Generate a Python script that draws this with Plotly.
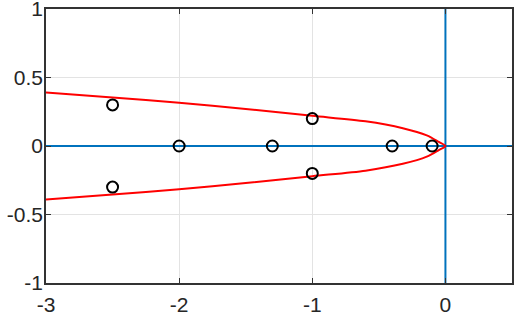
import plotly.graph_objects as go

# Red curve (upper branch); lower branch is its mirror
curve_x = [-3.0, -2.5, -2.0, -1.5, -1.0, -0.6, -0.32, -0.14, -0.05, 0.0]
curve_y = [0.39, 0.354, 0.315, 0.27, 0.22, 0.18, 0.13, 0.078, 0.03, 0.0]

# Black circles
pts_x = [-2.5, -2.5, -2.0, -1.3, -1.0, -1.0, -0.4, -0.1]
pts_y = [0.3, -0.3, 0.0, 0.0, 0.2, -0.2, 0.0, 0.0]

# Blue axis lines
hline_x = [-3, 0.5]
hline_y = [0, 0]
vline_x = [0, 0]
vline_y = [-1, 1]

x_ticks = [-3, -2, -1, 0]
y_ticks = [-1, -0.5, 0, 0.5, 1]
x_labels = ["-3", "-2", "-1", "0"]
y_labels = ["-1", "-0.5", "0", "0.5", "1"]

full_x = curve_x + curve_x[::-1][1:]
full_y = curve_y + [-v for v in curve_y[::-1][1:]]

blue = "#0072BD"
fig = go.Figure()
fig.add_trace(go.Scatter(x=hline_x, y=hline_y, mode="lines", line=dict(color=blue, width=2)))
fig.add_trace(go.Scatter(x=vline_x, y=vline_y, mode="lines", line=dict(color=blue, width=2)))
fig.add_trace(go.Scatter(x=full_x, y=full_y, mode="lines",
                         line=dict(color="#FF0000", width=2, shape="spline", smoothing=0.8)))
fig.add_trace(go.Scatter(x=pts_x, y=pts_y, mode="markers",
                         marker=dict(symbol="circle-open", size=11, color="black",
                                     line=dict(width=2, color="black"))))

axis_common = dict(showgrid=True, gridcolor="#e3e3e3", gridwidth=1, zeroline=False,
                   showline=True, linecolor="#333333", linewidth=1.5, mirror="ticks",
                   ticks="inside", ticklen=5, tickwidth=1, tickcolor="#333333",
                   automargin=False, ticklabeloverflow="allow",
                   tickfont=dict(family="Liberation Sans, Arial, sans-serif", size=21, color="#262626"))

fig.update_layout(
    width=520, height=314,
    margin=dict(l=46, r=8, t=9, b=31),
    plot_bgcolor="white", paper_bgcolor="white",
    showlegend=False,
    xaxis=dict(range=[-3, 0.5], tickvals=x_ticks, ticktext=x_labels,
               ticklabelstandoff=2, **axis_common),
    yaxis=dict(range=[-1, 1], tickvals=y_ticks, ticktext=y_labels,
               ticklabelstandoff=-3, **axis_common),
)

fig.write_html("out.html")
